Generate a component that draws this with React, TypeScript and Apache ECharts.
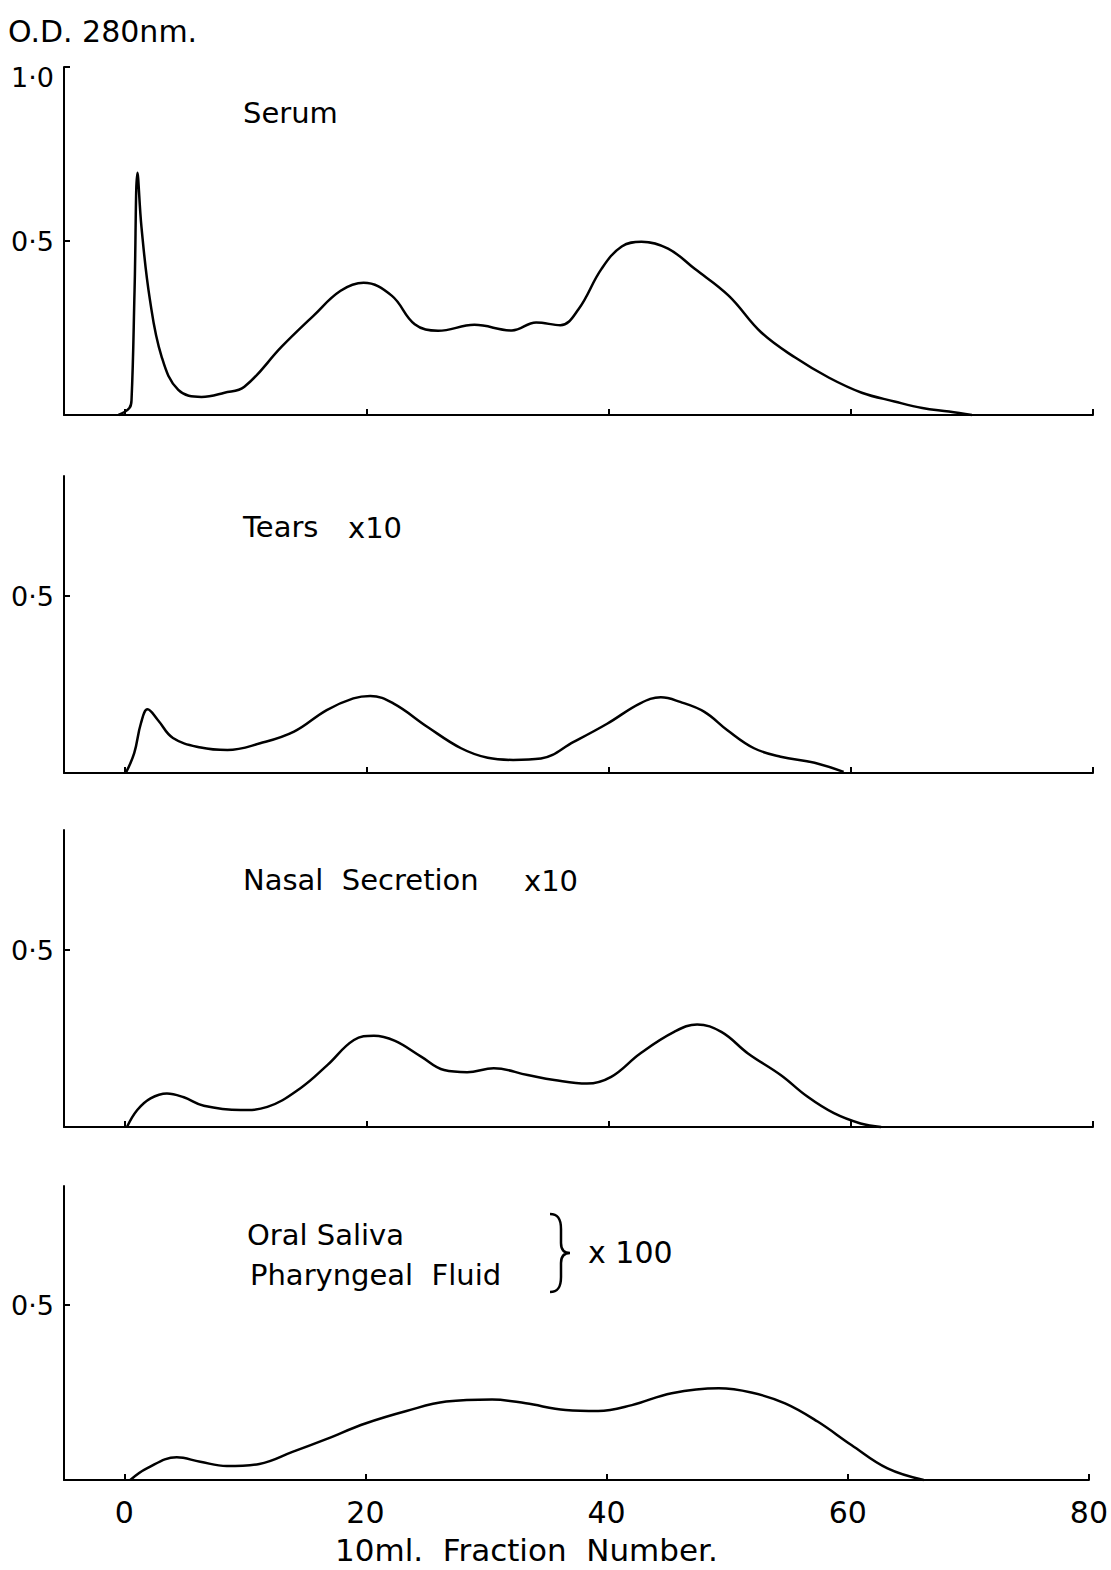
import React, { useEffect, useRef } from "react";
import * as echarts from "echarts";

// ---- data (fraction number, O.D. 280nm) ----
const serumFraction = [-0.5, 0.4, 0.58, 0.83, 1.07, 1.4, 2.09, 3.06, 4.44, 6.36, 8.26, 9.9, 13.0, 15.6, 17.85, 19.75, 22.07, 23.97, 25.9, 28.9, 32.0, 34.0, 36.0, 37.5, 39.4, 41.07, 42.7, 44.9, 47.1, 49.9, 52.6, 55.4, 58.2, 60.9, 63.6, 65.9, 68.1, 70];
const serumOD = [0, 0.02, 0.045, 0.36, 0.696, 0.54, 0.333, 0.168, 0.072, 0.052, 0.064, 0.081, 0.197, 0.285, 0.357, 0.38, 0.343, 0.261, 0.242, 0.259, 0.243, 0.266, 0.258, 0.304, 0.42, 0.484, 0.498, 0.478, 0.42, 0.343, 0.237, 0.165, 0.107, 0.064, 0.039, 0.02, 0.01, 0];

const tearsFraction = [0.1, 0.8, 1.35, 1.9, 2.75, 4.0, 6.3, 8.5, 11.2, 14.0, 16.7, 18.9, 20.3, 22.2, 25.0, 27.8, 30.0, 32.1, 34.4, 37.1, 39.9, 42.6, 44.3, 45.9, 47.9, 49.8, 52.0, 54.2, 57.0, 59.4];
const tearsOD = [0, 0.056, 0.14, 0.18, 0.15, 0.099, 0.072, 0.065, 0.084, 0.117, 0.178, 0.211, 0.218, 0.197, 0.131, 0.07, 0.043, 0.037, 0.041, 0.088, 0.14, 0.197, 0.214, 0.201, 0.173, 0.121, 0.07, 0.046, 0.029, 0.003];

const nasalFraction = [0.2, 1.05, 2.15, 3.5, 4.9, 6.55, 9.6, 11.8, 14.5, 16.75, 18.95, 20.6, 22.3, 24.5, 26.4, 28.3, 30.5, 33.3, 35.5, 38.2, 40.2, 42.6, 45.4, 47.3, 49.3, 51.5, 54.2, 56.4, 58.6, 60.8, 62.5];
const nasalOD = [0, 0.048, 0.081, 0.095, 0.084, 0.06, 0.048, 0.057, 0.109, 0.175, 0.246, 0.258, 0.244, 0.199, 0.161, 0.155, 0.166, 0.147, 0.133, 0.123, 0.142, 0.208, 0.269, 0.29, 0.269, 0.208, 0.147, 0.086, 0.039, 0.01, 0];

const salivaFraction = [0.5, 1.87, 4.35, 6.3, 8.5, 11.2, 14.0, 16.75, 20.05, 23.4, 26.7, 30.5, 33.3, 36.6, 39.3, 42.1, 45.4, 49.3, 52.0, 54.8, 57.5, 60.3, 63.3, 66.3];
const salivaOD = [0, 0.033, 0.065, 0.052, 0.04, 0.046, 0.081, 0.117, 0.162, 0.197, 0.224, 0.23, 0.219, 0.2, 0.197, 0.214, 0.248, 0.262, 0.25, 0.219, 0.167, 0.1, 0.033, 0];

const xTickValues = [0, 20, 40, 60, 80];
const panelMax = [1.0, 0.84, 0.84, 0.84];
const panelYLabels = [[0.5, 1.0], [0.5], [0.5], [0.5]];

const FONT = "DejaVu Sans";

function pairs(xs: number[], ys: number[]) {
  return xs.map((x, i) => [x, ys[i]]);
}

const braceD =
  "M0,0 C8,0 11,5 11,15 L11,29 C11,35 13,39 20,39 C13,39 11,43 11,49 L11,63 C11,73 8,78 0,78";

let braceRegistered = false;

export default function App() {
  const ref = useRef<HTMLDivElement>(null);

  useEffect(() => {
    document.body.style.margin = "0";
    if (!braceRegistered) {
      echarts.graphic.registerShape("brace", echarts.graphic.extendPath(braceD, {}) as any);
      braceRegistered = true;
    }
    const chart = echarts.init(ref.current!, undefined, { renderer: "svg" });

    const grids = [
      { left: 64, right: 18, top: 67, height: 348 },
      { left: 64, right: 18, top: 476, height: 297 },
      { left: 64, right: 18, top: 830, height: 297 },
      { left: 64, right: 18, top: 1186, height: 294 },
    ];
    const seriesData = [
      pairs(serumFraction, serumOD),
      pairs(tearsFraction, tearsOD),
      pairs(nasalFraction, nasalOD),
      pairs(salivaFraction, salivaOD),
    ];

    const axisLineStyle = { color: "#000", width: 2 };
    const txt = (text: string, x: number, y: number, size = 29) => ({
      type: "text",
      x,
      y,
      style: { text, fontFamily: FONT, fontSize: size, fill: "#000", verticalAlign: "middle" },
    });

    const option: any = {
      animation: false,
      backgroundColor: "#fff",
      grid: grids,
      xAxis: grids.map((_, i) => ({
        type: "value",
        gridIndex: i,
        min: -5,
        max: 80,
        axisLine: { show: true, onZero: false, lineStyle: axisLineStyle },
        axisTick: {
          show: true,
          inside: true,
          length: 6,
          customValues: xTickValues,
          lineStyle: { color: "#000", width: 2 },
        },
        axisLabel: {
          show: i === 3,
          customValues: xTickValues,
          color: "#000",
          fontFamily: FONT,
          fontSize: 30,
          margin: 17,
        },
        splitLine: { show: false },
      })),
      yAxis: grids.map((_, i) => ({
        type: "value",
        gridIndex: i,
        min: 0,
        max: panelMax[i],
        axisLine: { show: true, onZero: false, lineStyle: axisLineStyle },
        axisTick: {
          show: true,
          inside: true,
          length: 6,
          customValues: panelYLabels[i],
          lineStyle: { color: "#000", width: 2 },
        },
        axisLabel: {
          show: true,
          customValues: panelYLabels[i],
          color: "#000",
          fontFamily: FONT,
          fontSize: 27,
          margin: 10,
          formatter: (v: number) => (v >= 1 ? "{top|1·0}" : "0·5"),
          rich: {
            top: { fontFamily: FONT, fontSize: 27, color: "#000", padding: [20, 0, 0, 0] },
          },
        },
        splitLine: { show: false },
      })),
      series: seriesData.map((d, i) => ({
        type: "line",
        xAxisIndex: i,
        yAxisIndex: i,
        data: d,
        showSymbol: false,
        smooth: 0.4,
        lineStyle: { color: "#000", width: 2.5 },
        itemStyle: { color: "#000" },
        clip: false,
      })),
      graphic: [
        txt("O.D. 280nm.", 8, 31, 30),
        txt("Serum", 243, 113),
        txt("Tears", 243, 527),
        txt("x10", 348, 528),
        txt("Nasal  Secretion", 243, 880),
        txt("x10", 524, 881),
        txt("Oral Saliva", 247, 1235),
        txt("Pharyngeal  Fluid", 250, 1275),
        { type: "brace", x: 550, y: 1214, style: { stroke: "#000", fill: "none", lineWidth: 2.5 } },
        txt("x 100", 588, 1252, 30),
        txt("10ml.  Fraction  Number.", 335, 1550, 31),
      ],
    };

    chart.setOption(option);
    return () => chart.dispose();
  }, []);

  return <div ref={ref} style={{ width: 1111, height: 1570, background: "#fff" }} />;
}
